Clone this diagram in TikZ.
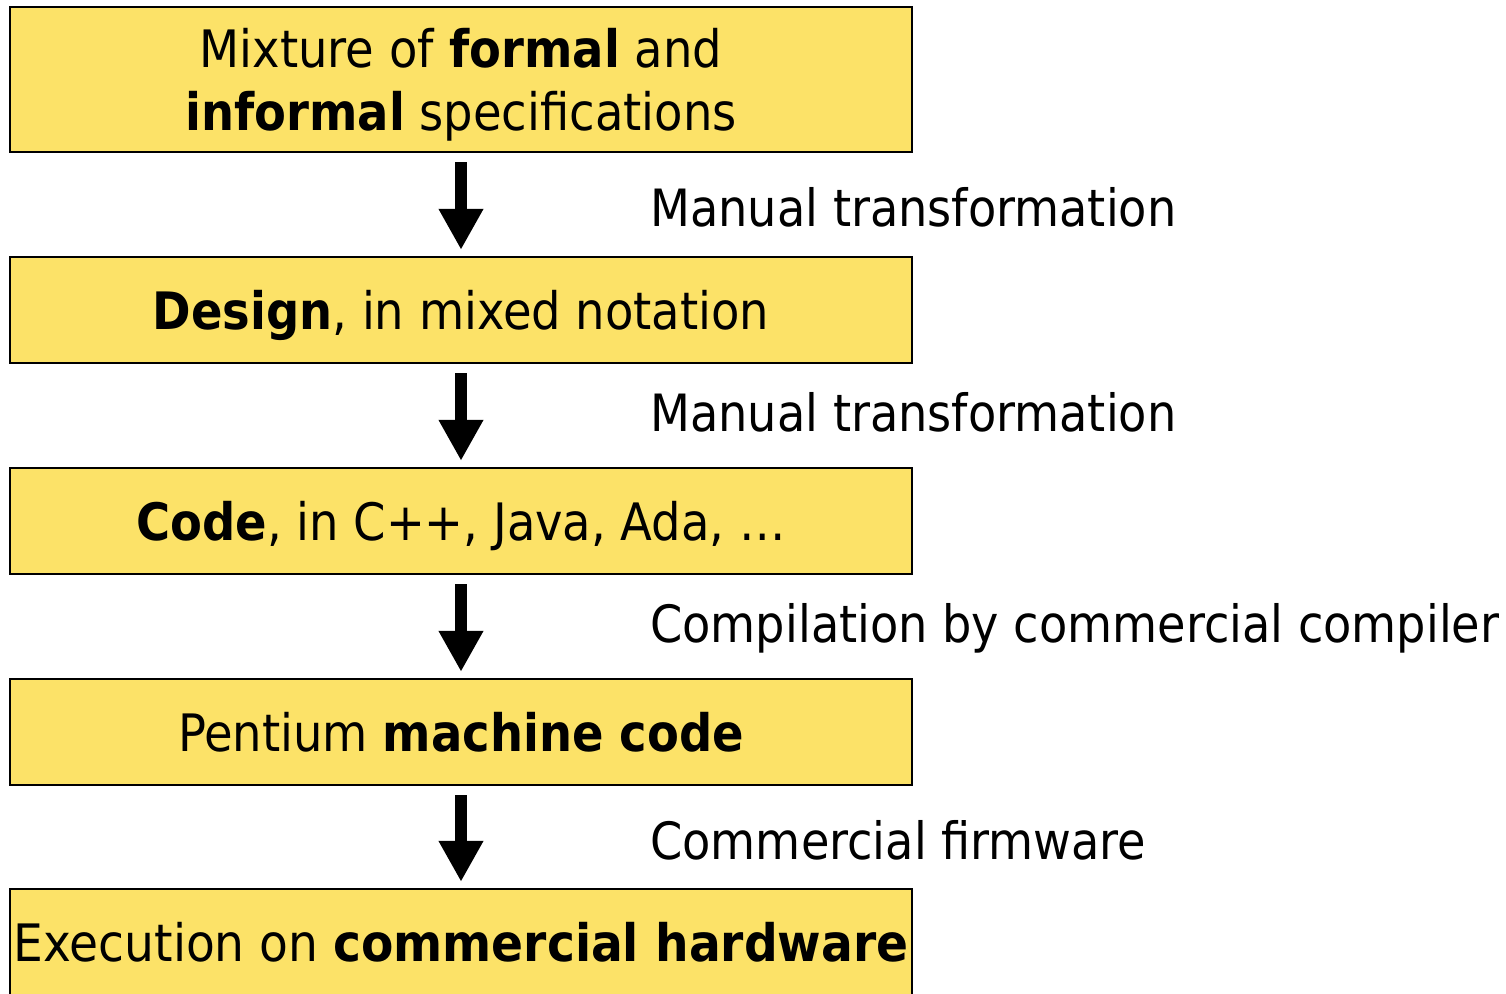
\documentclass[tikz,border=0pt]{standalone}
\usepackage{fontspec}
\setmainfont{DejaVu Sans Condensed}
\usetikzlibrary{arrows.meta}
\definecolor{boxyellow}{RGB}{252,226,104}

\tikzstyle{stage}=[draw, line width=1.2pt, fill=boxyellow, inner sep=0pt,
  minimum width=451pt, minimum height=53pt, align=center, text depth=0pt,
  font=\fontsize{25.8}{31.5}\selectfont]
\tikzstyle{step label}=[anchor=west, inner sep=0pt, font=\fontsize{25.7}{31.5}\selectfont]
\tikzstyle{arrow}=[line width=6pt, -{Triangle[width=21pt, length=20.5pt]},
  shorten <=4.5pt, shorten >=3pt]

\begin{document}
\begin{tikzpicture}[x=0.5pt, y=-0.5pt]
      \useasboundingbox (0, 0) rectangle (1506, 993);

      \node[stage, minimum height=72.5pt] (spec) at (461, 79.5) {Mixture of \textbf{formal} and\\ \textbf{informal} specifications};
      \node[stage] (design) at (461, 310) {\textbf{Design}, in mixed notation};
      \node[stage] (code) at (461, 521) {\textbf{Code}, in C++, Java, Ada, \dots};
      \node[stage] (machine) at (461, 732) {Pentium \textbf{machine code}};
      \node[stage] (exec) at (461, 942) {\scalebox{1.015}[1]{Execution on \textbf{commercial hardware}}};

      \node[step label] (t1) at (650, 207) {Manual transformation};
      \node[step label] (t2) at (650, 412) {Manual transformation};
      \node[step label] (t3) at (650, 628) {Compilation by commercial compiler};
      \node[step label] (t4) at (650, 840) {Commercial firmware};

      \draw[arrow] (spec) to (design);
      \draw[arrow] (design) to (code);
      \draw[arrow] (code) to (machine);
      \draw[arrow] (machine) to (exec);
    \end{tikzpicture}
\end{document}
